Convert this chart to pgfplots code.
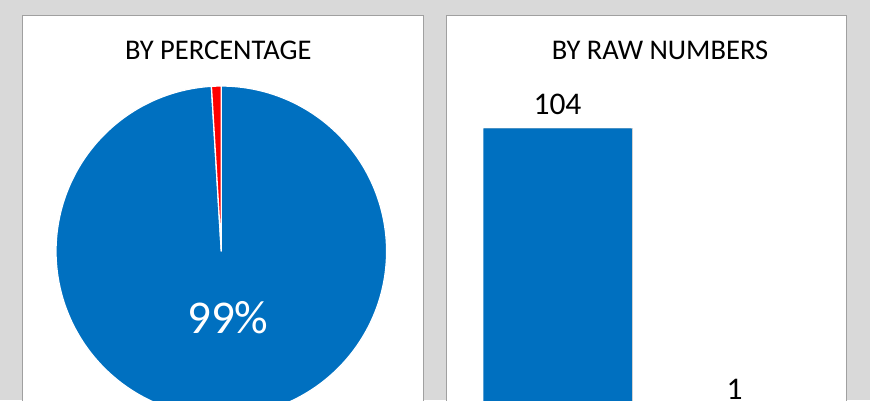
\documentclass[border=0pt]{standalone}
\usepackage{pgfplots}
\pgfplotsset{compat=1.18}
\usepgfplotslibrary{polar}
\usepackage{fontspec}
\setmainfont{Carlito}
\definecolor{bg}{RGB}{217,217,217}
\definecolor{panelborder}{RGB}{160,160,160}
\definecolor{pieblue}{RGB}{0,112,192}
\definecolor{piered}{RGB}{255,0,0}
\begin{document}
\begin{tikzpicture}[x=1pt,y=1pt]
\begin{scope}
\clip (0,0) rectangle (870,400);
\fill[bg] (0,0) rectangle (870,400);
\filldraw[fill=white, draw=panelborder, line width=1pt] (22.3,-10) rectangle (423.3,384);
\filldraw[fill=white, draw=panelborder, line width=1pt] (446.7,-10) rectangle (846,384);
\node[font=\fontsize{28.5}{34}\selectfont, anchor=base, inner sep=0pt] at (218.3,340.7) {BY PERCENTAGE};
\node[font=\fontsize{28.5}{34}\selectfont, anchor=base, inner sep=0pt] at (660,340.7) {BY RAW NUMBERS};
% pie: 104 and 1 -> 356.57 deg and 3.43 deg, starting at 12 o'clock clockwise
\begin{polaraxis}[at={(221.3pt,148.7pt)}, anchor=center, scale only axis,
  width=330.6pt, height=330.6pt, hide axis, xmin=0, xmax=360, ymin=0, ymax=1, clip=false]
\addplot[fill=pieblue, draw=white, line width=1.3pt, domain=-266.57:90, samples=400] {1} -- (axis cs:0,0) -- cycle;
\addplot[fill=piered, draw=white, line width=1.3pt] coordinates {(0,0) (90,1) (91.7,1) (93.43,1)} -- cycle;
\end{polaraxis}
\node[white, font=\fontsize{47}{56}\selectfont, anchor=base, inner sep=0pt] at (227.8,66.7) {99\%};
% bars
\begin{axis}[at={(469pt,-15.4pt)}, anchor=south west, scale only axis,
  width=354pt, height=287.1pt, xmin=-0.5, xmax=1.5, ymin=0, ymax=104,
  hide axis, clip=false, ybar, bar width=148.4pt,
  /pgf/number format/assume math mode=true,
  nodes near coords,
  every node near coord/.append style={font=\fontsize{31.5}{38}\selectfont, text=black, inner sep=0pt, yshift=13.3pt}]
\addplot[fill=pieblue, draw=none, bar shift=0pt,
  preaction={draw=black!18, line width=1.2pt, transform canvas={xshift=0.8pt}}] coordinates {(0,104) (1,1)};
\end{axis}
\end{scope}
\pgfresetboundingbox
\path[use as bounding box] (0,0) rectangle (870,400);
\end{tikzpicture}
\end{document}
